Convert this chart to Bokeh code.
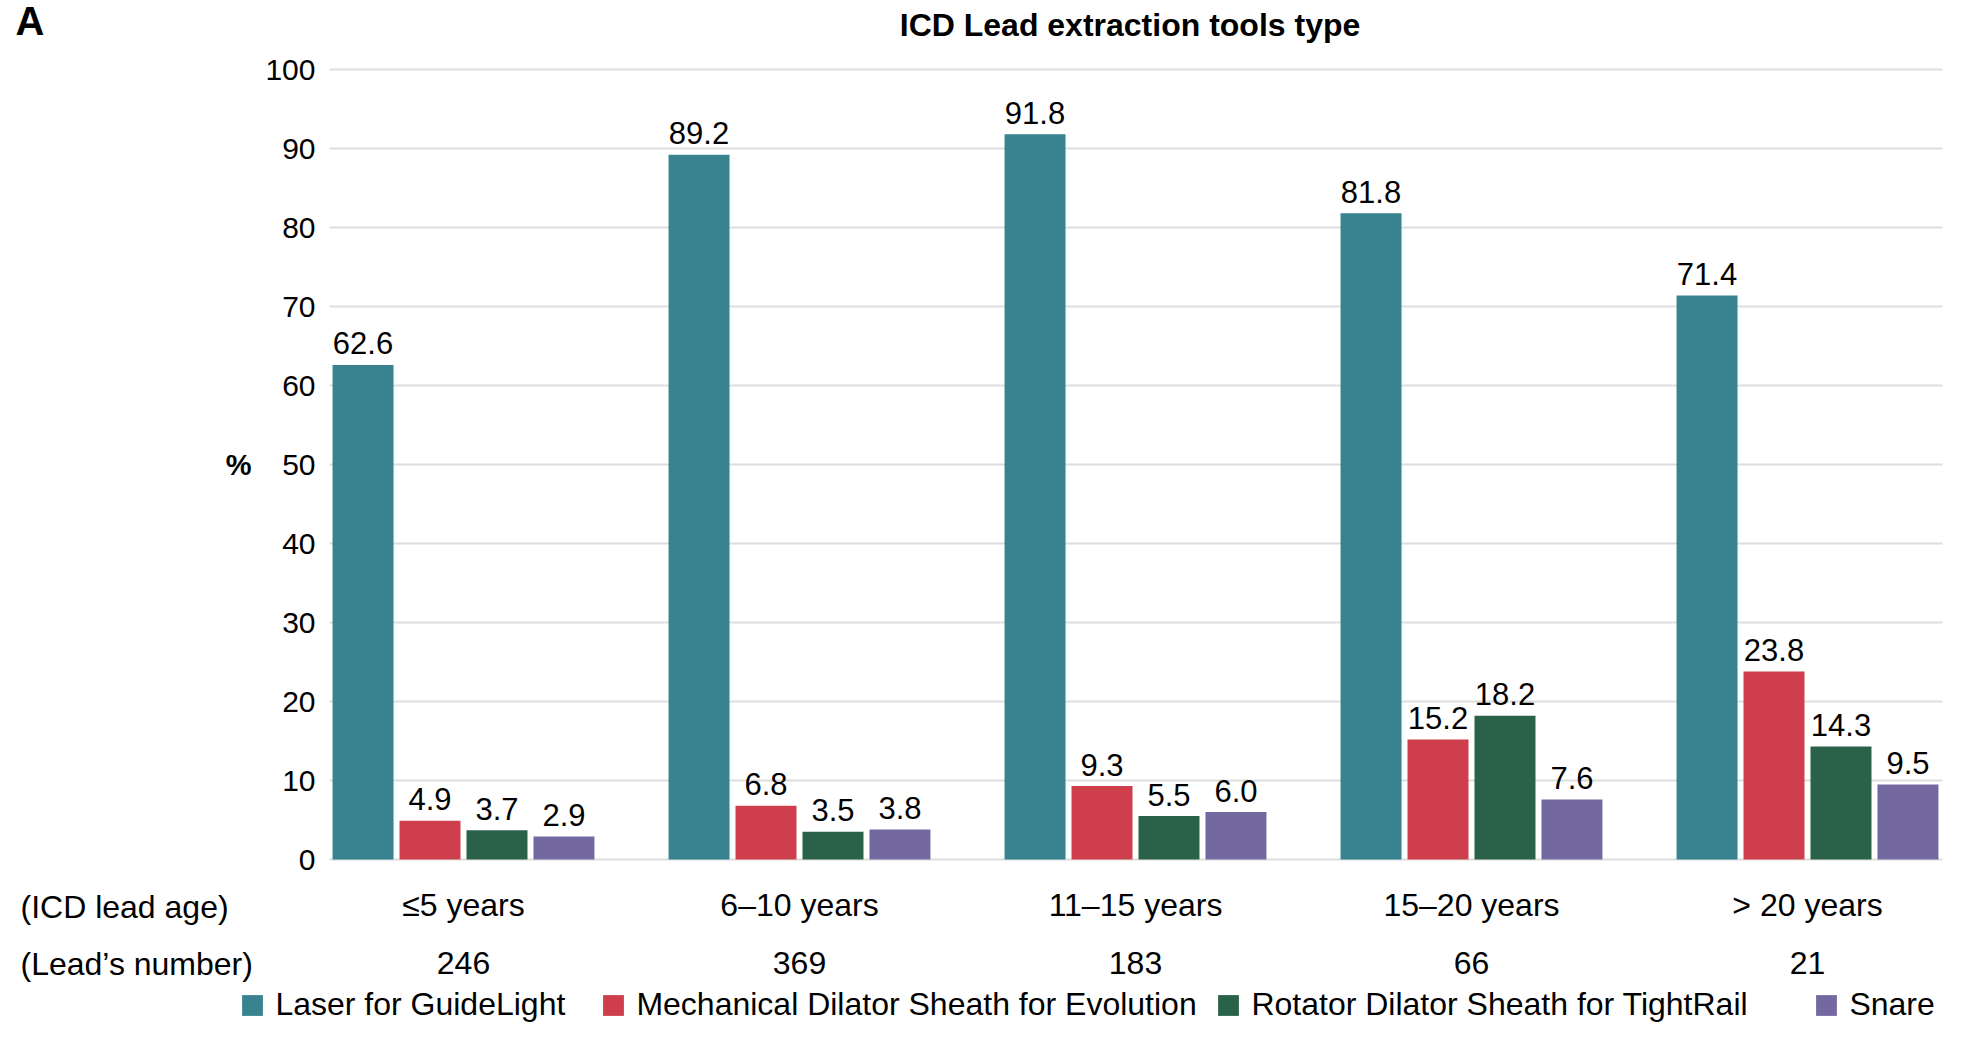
from bokeh.plotting import figure
from bokeh.models import (Range1d, FixedTicker, LinearAxis, Label, Legend,
                          LegendItem, ColumnDataSource)
from bokeh.transform import dodge
from bokeh.core.properties import value
from bokeh.embed import file_html
from bokeh.resources import INLINE

# ---------------- data ----------------
age_groups = ["\u22645 years", "6\u201310 years", "11\u201315 years", "15\u201320 years", "> 20 years"]
lead_counts = ["246", "369", "183", "66", "21"]
laser = [62.6, 89.2, 91.8, 81.8, 71.4]
mechanical = [4.9, 6.8, 9.3, 15.2, 23.8]
rotator = [3.7, 3.5, 5.5, 18.2, 14.3]
snare = [2.9, 3.8, 6.0, 7.6, 9.5]
series_names = ["Laser for GuideLight", "Mechanical Dilator Sheath for Evolution",
                "Rotator Dilator Sheath for TightRail", "Snare"]
y_ticks = [0, 10, 20, 30, 40, 50, 60, 70, 80, 90, 100]
title_text = "ICD Lead extraction tools type"
row_headers = ["(ICD lead age)", "(Lead\u2019s number)"]
panel_letter = "A"

# ---------------- layout / style ----------------
W, H = 1945, 1023
FONT = "Liberation Sans"
colors = ["#38838F", "#CE3E4B", "#2A6249", "#7468A0"]
offsets = [-0.299, -0.0997, 0.0997, 0.299]
bar_w = 0.1815
legend_px = [242, 603, 1218, 1816]   # left edge of each legend swatch (px)
# pixel geometry of the data area (canvas px)
X0_PX, X_UNIT = 463.0, 336.0       # centre of first group, px per group
Y0_PX, Y_UNIT = 859.0, 7.9         # 0 % line, px per %
def dx(px):
    return (px - X0_PX) / X_UNIT
def dy(py):
    return (Y0_PX - py) / Y_UNIT

x_left, x_right = dx(329), dx(1942)
label_gap = 21.5 / Y_UNIT

positions = list(range(len(age_groups)))
series = [laser, mechanical, rotator, snare]
data = {"x": positions}
for k, s in enumerate(series):
    data[f"s{k}"] = s
    data[f"l{k}"] = [f"{v:.1f}" for v in s]
    data[f"ly{k}"] = [v + label_gap for v in s]
src = ColumnDataSource(data)

p = figure(width=W, height=H, output_backend="svg", toolbar_location=None,
           x_range=Range1d(dx(0), dx(W)), y_range=Range1d(dy(H), dy(0)),
           min_border_left=0, min_border_right=0, min_border_top=0, min_border_bottom=0)
p.outline_line_color = None
p.background_fill_color = "white"
p.border_fill_color = "white"
p.xgrid.visible = False

# y grid limited to the data area
g = p.ygrid[0]
g.ticker = FixedTicker(ticks=y_ticks)
g.grid_line_color = "#dddddd"
g.grid_line_width = 2
if "cross_bounds" in g.properties():
    g.cross_bounds = (x_left, x_right)
else:
    g.visible = False
    p.segment(x0=x_left, x1=x_right, y0=y_ticks, y1=y_ticks,
              line_color="#dddddd", line_width=2)

# y axis at the left edge of the data area
yax = p.yaxis[0]
yax.fixed_location = x_left
yax.bounds = (0, 100)
yax.ticker = FixedTicker(ticks=y_ticks)
yax.axis_line_color = None
yax.major_tick_line_color = None
yax.minor_tick_line_color = None
yax.major_tick_out = 0
yax.major_tick_in = 0
yax.major_label_standoff = 14
yax.major_label_text_font = FONT
yax.major_label_text_font_size = "30px"
yax.major_label_text_color = "black"
yax.axis_label = "%"
yax.axis_label_text_font = FONT
yax.axis_label_text_font_size = "29px"
yax.axis_label_text_font_style = "bold"
yax.axis_label_text_color = "black"
yax.axis_label_orientation = "horizontal"
yax.axis_label_standoff = 11

# x axes: age groups and lead counts, both anchored at 0 %
def style_xaxis(ax, labels, standoff):
    ax.fixed_location = 0
    ax.ticker = FixedTicker(ticks=positions)
    ax.major_label_overrides = {i: t for i, t in zip(positions, labels)}
    ax.axis_line_color = None
    ax.major_tick_line_color = None
    ax.minor_tick_line_color = None
    ax.major_tick_out = 0
    ax.major_tick_in = 0
    ax.major_label_standoff = standoff
    ax.major_label_text_font = FONT
    ax.major_label_text_font_size = "32px"
    ax.major_label_text_color = "black"

style_xaxis(p.xaxis[0], age_groups, 27)
ax2 = LinearAxis()
style_xaxis(ax2, lead_counts, 92)
p.add_layout(ax2, "below")

# bars and value labels
renderers = []
for k in range(4):
    r = p.vbar(x=dodge("x", offsets[k]), top=f"s{k}", width=bar_w, bottom=0,
               source=src, fill_color=colors[k], line_color=None)
    renderers.append(r)
    p.text(x=dodge("x", offsets[k]), y=f"ly{k}", text=f"l{k}", source=src,
           text_align="center", text_baseline="alphabetic",
           text_font=value(FONT), text_font_size="31px", text_color="black")

# legend: one entry per swatch position
for name, r, lx in zip(series_names, renderers, legend_px):
    lg = Legend(items=[LegendItem(label=name, renderers=[r])],
                orientation="horizontal", location=(lx - 2.6, 0),
                glyph_width=26, glyph_height=26, label_standoff=10,
                padding=0, margin=0, border_line_color=None, background_fill_alpha=0,
                label_text_font=FONT, label_text_font_size="32px", label_text_color="black")
    p.add_layout(lg, "center")

# row headers, title and panel letter
for txt, cy in zip(row_headers, [906.5, 963]):
    p.add_layout(Label(x=dx(20), y=dy(cy), text=txt,
                       text_font=FONT, text_font_size="32px", text_color="black",
                       text_baseline="alphabetic", text_align="left"))
p.add_layout(Label(x=dx(1129.5), y=dy(24), text=title_text,
                   text_font=FONT, text_font_size="32px", text_font_style="bold",
                   text_color="black", text_baseline="alphabetic", text_align="center"))
p.add_layout(Label(x=dx(15), y=dy(20.5), text=panel_letter,
                   text_font=FONT, text_font_size="40px", text_font_style="bold",
                   text_color="black", text_baseline="alphabetic", text_align="left"))

open("out.html", "w").write(file_html(p, INLINE))
